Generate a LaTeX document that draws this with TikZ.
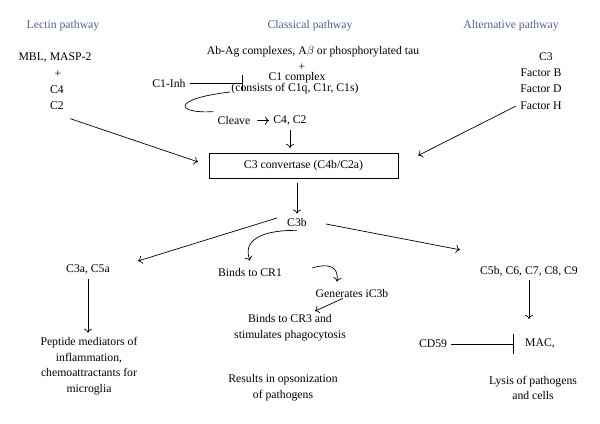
\documentclass[tikz,border=0pt]{standalone}
\usepackage{fontspec}
\setmainfont{Liberation Serif}
\usetikzlibrary{arrows.meta}
\definecolor{pathblue}{RGB}{78,98,140}
\begin{document}
\begin{tikzpicture}[x=0.03cm,y=-0.03cm,line width=0.6pt,>={To[length=3.5pt,width=7pt]},
every node/.style={font=\fontsize{10}{13.4}\selectfont,align=center},
title/.style={text=pathblue},
inhib/.style={-{Bar[width=#1]}}]
\path[use as bounding box](0,0)rectangle(600,423);
\node[title](lec)at(63,26){Lectin pathway};
\node[title](cla)at(310,26){Classical pathway};
\node[title](alt)at(511,26){Alternative pathway};
\node(mbl)at(55,58){MBL, MASP-2};\node(lplus)at(58,74){+};
\node(lc4)at(57,90){C4};\node(lc2)at(57,106){C2};
\node(abag)at(313,52){Ab-Ag complexes, A$\beta$ or phosphorylated tau};
\node(cplus)at(302,67){+};
\node(c1)at(297,78){C1 complex};
\node(cons)at(295,89){(consists of C1q, C1r, C1s)};
\node(inh)at(169,83){C1-Inh};
\node(cleave)at(234,120){Cleave};\node(c4c2)at(290,121){C4, C2};
\node(alc3)at(546,57){C3};\node(fb)at(541,73){Factor B};
\node(fd)at(541,89){Factor D};\node(fh)at(541,106){Factor H};
\node[draw,minimum width=5.67cm,minimum height=0.75cm,inner sep=0pt](conv)at(303.5,165.5){C3 convertase (C4b/C2a)};
\node(c3b)at(297,222){C3b};
\node(c3a)at(88,270){C3a, C5a};
\node(pep)at(89,366){Peptide mediators of\\inflammation,\\chemoattractants for\\microglia};
\node(cr1)at(250,272){Binds to CR1};
\node(gen)at(352,293){Generates iC3b};
\node(bcr3)at(290,327.5){Binds to CR3 and\\stimulates phagocytosis};
\node(res)at(283,388){Results in opsonization\\of pathogens};
\node(c5b)at(529,271){C5b, C6, C7, C8, C9};
\node(cd59)at(433,344){CD59};\node(mac)at(540,344){MAC,};
\node(lys)at(533,388){Lysis of pathogens\\and cells};
\draw[->,shorten <=12pt,shorten >=9.6pt](lc2.south)--(conv.west);
\draw[->,shorten >=19pt](fh.west)--(conv.east);
\draw[inhib=13.6pt,shorten >=18.8pt](inh.east)--(inh.east-|c1.west);
\draw([shift={(3,3)}]cons.west)..controls(170,99)and(176,114)..(cleave.north west);
\draw[->,shorten <=2.5pt](cleave)--(c4c2);
\draw[->,shorten >=4pt](c4c2.south)--(c4c2.south|-conv.north);
\draw[->,shorten <=4pt](conv.south-|c3b.north)--(c3b.north);
\draw[->]([shift={(-6,-4)}]c3b.west)--([shift={(24,0)}]c3a.north east);
\draw[->]([shift={(15,2)}]c3b.east)--([shift={(-16,-12)}]c5b.north west);
\draw[->](c3b.south)..controls(262,230)and(242,240)..([shift={(0,-3)}]cr1.north);
\draw[->]([shift={(26,-4)}]cr1.east)..controls(328,263)and(339,266)..([shift={(-15,-3)}]gen.north);
\draw[->]([shift={(-9,-3)}]gen.south)--([shift={(25,1)}]bcr3.north);
\draw[->](c3a.south)--(c3a.south|-pep.north);
\draw[->,shorten >=13.7pt](c5b.south)--(c5b.south|-mac.north);
\draw[inhib=17pt,shorten >=6pt](cd59)--(mac);
\end{tikzpicture}
\end{document}
